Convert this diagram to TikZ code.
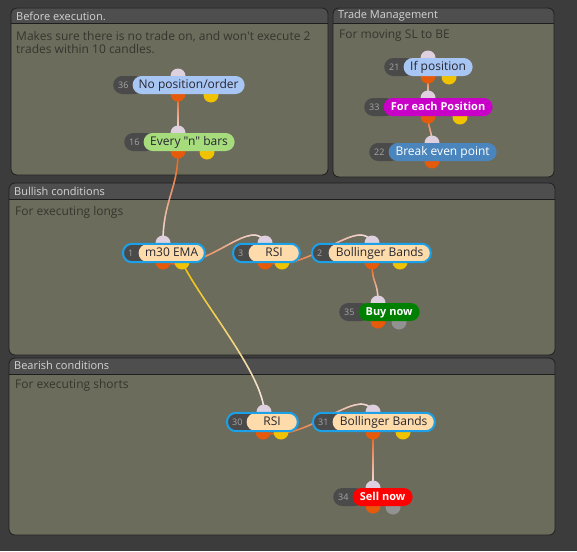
\documentclass[tikz,border=0pt]{standalone}
\usepackage{fontspec}
\setmainfont{Open Sans}[Ligatures=TeXOff]
\usetikzlibrary{positioning,decorations.markings}

\definecolor{canvas}{HTML}{3C3C3C}
\definecolor{panelbody}{HTML}{6C6C5C}
\definecolor{panelhead}{HTML}{4E4E4E}
\definecolor{panelrim}{HTML}{1E1E1E}
\definecolor{headtext}{HTML}{D4D4D4}
\definecolor{desctext}{HTML}{35352E}
\definecolor{idgray}{HTML}{4A4A4A}
\definecolor{idtext}{HTML}{A6A6A6}
\definecolor{pilltext}{HTML}{262630}
\definecolor{skyfill}{HTML}{A8C6F4}
\definecolor{limefill}{HTML}{A6DC7C}
\definecolor{magentafill}{HTML}{C800C8}
\definecolor{steelfill}{HTML}{4A85BD}
\definecolor{peachfill}{HTML}{FDDBAA}
\definecolor{pickblue}{HTML}{1CA0E8}
\definecolor{buygreen}{HTML}{008000}
\definecolor{sellred}{HTML}{FF0000}
\definecolor{portin}{HTML}{DED0DE}
\definecolor{portout}{HTML}{E55A0B}
\definecolor{portalt}{HTML}{F0C200}
\definecolor{portoff}{HTML}{929292}
\definecolor{wireend}{HTML}{F4E6EE}

\pgfdeclarelayer{panels}
\pgfdeclarelayer{wires}
\pgfdeclarelayer{ports}
\pgfsetlayers{panels,wires,ports,main}

\begin{document}
\begin{tikzpicture}[x=1pt,y=-1pt,
  paneltitle/.style={anchor=west,inner sep=0pt,text=headtext,font=\fontsize{11}{12}\selectfont},
  paneldesc/.style={anchor=north west,inner sep=0pt,align=left,text=desctext,font=\fontsize{12}{13}\selectfont},
  idbox/.style={anchor=west,fill=idgray,rounded corners=9pt,minimum height=18pt,inner xsep=5pt,inner ysep=0pt,
    text width=#1,align=left,text=idtext,font=\fontsize{9}{10}\selectfont},
  idbox/.default=21pt,
  pill/.style={rounded corners=9pt,minimum height=18pt,inner sep=0pt,text height=8.8pt,text depth=2.6pt,
    text=pilltext,font=\fontsize{12}{13}\selectfont},
  loud/.style={text=white,font=\fontsize{11}{13}\bfseries\selectfont},
  picked/.style={draw=pickblue,line width=2pt,rounded corners=9pt},
  port/.style={circle,minimum size=15pt,inner sep=0pt},
  inport/.style={port,fill=portin},
  outport/.style={port,fill=portout},
  altport/.style={port,fill=portalt},
  offport/.style={port,fill=portoff},
  wire/.style 2 args={decoration={markings,mark=between positions 0 and 1 step 1pt with {
      \pgfmathtruncatemacro{\wirepct}{\pgfkeysvalueof{/pgf/decoration/mark info/distance from start}/\pgfdecoratedpathlength*100}
      \draw[line width=1.4pt,#2!\wirepct!#1] (-0.8pt,0) -- (0.8pt,0);}},postaction={decorate}},
]
\useasboundingbox (0,0) rectangle (577,551);

% panels
\begin{pgfonlayer}{panels}
\fill[canvas] (0,0) rectangle (577,551);
\foreach \xa/\ya/\xb/\yb/\yh in {11/8/328/175/24, 333/8/554/177/24, 9/183/555/355/199, 9/358/555/535/374} {
  \fill[panelbody,rounded corners=6pt] (\xa,\ya) rectangle (\xb,\yb);
  \begin{scope}
    \clip[rounded corners=6pt] (\xa,\ya) rectangle (\xb,\yb);
    \fill[panelhead] (\xa,\ya) rectangle (\xb,\yh);
  \end{scope}
  \draw[panelrim,line width=1pt] (\xa,\yh) -- (\xb,\yh);
  \draw[panelrim,line width=0.8pt,rounded corners=6pt] (\xa,\ya) rectangle (\xb,\yb);
}
\end{pgfonlayer}

\node[paneltitle] (before-title) at (16,16) {Before execution.};
\node[paneldesc] (before-desc) at (16,31) {Makes sure there is no trade on, and won't execute 2\\trades within 10 candles.};
\node[paneltitle] (manage-title) at (338,16) {Trade Management};
\node[paneldesc] (manage-desc) at (339,29.5) {For moving SL to BE};
\node[paneltitle] (bull-title) at (14,191) {Bullish conditions};
\node[paneldesc] (bull-desc) at (15,206) {For executing longs};
\node[paneltitle] (bear-title) at (14,365) {Bearish conditions};
\node[paneldesc] (bear-desc) at (15,379) {For executing shorts};

% before execution
\node[idbox] (nopos-id) at (113,85) {36};
\node[pill,fill=skyfill,minimum width=112pt,right=-12pt of nopos-id] (nopos) {No position/order};
\node[idbox] (nbars-id) at (124,142) {16};
\node[pill,fill=limefill,minimum width=91pt,right=-12pt of nbars-id] (nbars) {Every "n" bars};

% trade management
\node[idbox] (ifpos-id) at (384,67) {21};
\node[pill,fill=skyfill,minimum width=69pt,right=-12pt of ifpos-id] (ifpos) {If position};
\node[idbox] (each-id) at (364,107) {33};
\node[pill,loud,fill=magentafill,minimum width=109pt,right=-12pt of each-id] (each) {For each Position};
\node[idbox] (beven-id) at (369,152) {22};
\node[pill,fill=steelfill,text=white,minimum width=108pt,right=-12pt of beven-id] (beven) {Break even point};

% bullish
\node[idbox=17pt] (ema-id) at (123,253) {1};
\node[pill,fill=peachfill,minimum width=66pt,right=-12pt of ema-id] (ema) {m30 EMA};
\draw[picked] (ema-id.north west) rectangle (ema.south east);
\node[idbox=17pt] (rsiup-id) at (233,253) {3};
\node[pill,fill=peachfill,minimum width=51pt,right=-12pt of rsiup-id] (rsiup) {RSI};
\draw[picked] (rsiup-id.north west) rectangle (rsiup.south east);
\node[idbox=18pt] (bbup-id) at (312,253) {2};
\node[pill,fill=peachfill,minimum width=102pt,right=-12pt of bbup-id] (bbup) {Bollinger Bands};
\draw[picked] (bbup-id.north west) rectangle (bbup.south east);
\node[idbox] (buy-id) at (339,312) {35};
\node[pill,loud,fill=buygreen,minimum width=61pt,right=-12pt of buy-id] (buy) {Buy now};

% bearish
\node[idbox] (rsidn-id) at (227,422) {30};
\node[pill,fill=peachfill,minimum width=51pt,right=-12pt of rsidn-id] (rsidn) {RSI};
\draw[picked] (rsidn-id.north west) rectangle (rsidn.south east);
\node[idbox] (bbdn-id) at (313,422) {31};
\node[pill,fill=peachfill,minimum width=102pt,right=-12pt of bbdn-id] (bbdn) {Bollinger Bands};
\draw[picked] (bbdn-id.north west) rectangle (bbdn.south east);
\node[idbox] (sell-id) at (333,497) {34};
\node[pill,loud,fill=sellred,minimum width=60pt,right=-12pt of sell-id] (sell) {Sell now};

% ports
\begin{pgfonlayer}{ports}
\node[inport] (nopos-in) at (178,76) {};
\node[outport] (nopos-out) at (178,94) {};
\node[altport] (nopos-alt) at (211,95) {};
\node[inport] (nbars-in) at (178,133) {};
\node[outport] (nbars-out) at (178,151) {};
\node[altport] (nbars-alt) at (207,152) {};
\node[inport] (ifpos-in) at (428,58) {};
\node[outport] (ifpos-out) at (428,76) {};
\node[altport] (ifpos-alt) at (449,77) {};
\node[inport] (each-in) at (428,98) {};
\node[outport] (each-out) at (428,116) {};
\node[altport] (each-alt) at (460,117) {};
\node[inport] (beven-in) at (432,143) {};
\node[outport] (beven-out) at (432,161) {};
\node[inport] (ema-in) at (163,243) {};
\node[outport] (ema-out) at (163,262) {};
\node[altport] (ema-alt) at (182,262) {};
\node[inport] (rsiup-in) at (265,243) {};
\node[outport] (rsiup-out) at (265,262) {};
\node[altport] (rsiup-alt) at (282,262) {};
\node[inport] (bbup-in) at (372,243) {};
\node[outport] (bbup-out) at (372,262) {};
\node[altport] (bbup-alt) at (400,262) {};
\node[inport] (buy-in) at (378,303) {};
\node[outport] (buy-out) at (378,321) {};
\node[offport] (buy-off) at (399,322) {};
\node[inport] (rsidn-in) at (264,412) {};
\node[outport] (rsidn-out) at (263,432) {};
\node[altport] (rsidn-alt) at (281,432) {};
\node[inport] (bbdn-in) at (373,412) {};
\node[outport] (bbdn-out) at (373,432) {};
\node[altport] (bbdn-alt) at (403,432) {};
\node[inport] (sell-in) at (373,488) {};
\node[outport] (sell-out) at (373,506) {};
\node[offport] (sell-off) at (393,507) {};
\end{pgfonlayer}

% wires
\begin{pgfonlayer}{wires}
\path[wire={portout}{wireend}] (nopos-out.center) -- (nbars-in.center);
\path[wire={portout}{wireend}] (nbars-out.center) .. controls (178,190) and (163,200) .. (ema-in.center);
\path[wire={portout}{wireend}] (ifpos-out.center) -- (each-in.center);
\path[wire={portout}{wireend}] (each-out.center) .. controls (428,128) and (432,131) .. (beven-in.center);
\path[wire={portout}{wireend}] (ema-out.center) .. controls (205,275) and (252,214) .. (rsiup-in.center);
\path[wire={portout}{wireend}] (rsiup-out.center) .. controls (307,275) and (359,214) .. (bbup-in.center);
\path[wire={portout}{wireend}] (bbup-out.center) .. controls (372,285) and (378,280) .. (buy-in.center);
\path[wire={portalt}{wireend}] (ema-alt.center) .. controls (200,300) and (264,375) .. (rsidn-in.center);
\path[wire={portout}{wireend}] (rsidn-out.center) .. controls (305,445) and (360,383) .. (bbdn-in.center);
\path[wire={portout}{wireend}] (bbdn-out.center) -- (sell-in.center);
\end{pgfonlayer}
\end{tikzpicture}
\end{document}
